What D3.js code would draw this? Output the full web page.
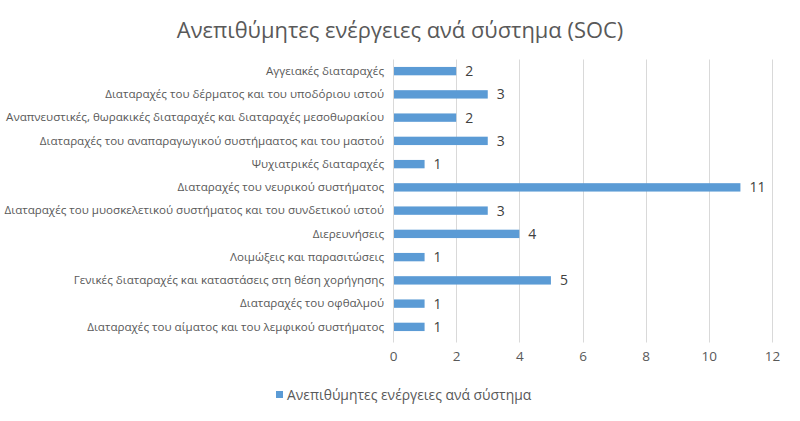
<!DOCTYPE html>
<html><head><meta charset="utf-8">
<script src="https://cdn.jsdelivr.net/npm/d3@7"></script>
<style>body{margin:0;background:#fff}svg{display:block}</style>
</head><body>
<svg id="c" width="800" height="421"></svg>
<script>
const categories = [
  "Αγγειακές διαταραχές",
  "Διαταραχές του δέρματος και του υποδόριου ιστού",
  "Αναπνευστικές, θωρακικές διαταραχές και διαταραχές μεσοθωρακίου",
  "Διαταραχές του αναπαραγωγικού συστήμαατος και του μαστού",
  "Ψυχιατρικές διαταραχές",
  "Διαταραχές του νευρικού συστήματος",
  "Διαταραχές του μυοσκελετικού συστήματος και του συνδετικού ιστού",
  "Διερευνήσεις",
  "Λοιμώξεις και παρασιτώσεις",
  "Γενικές διαταραχές και καταστάσεις στη θέση χορήγησης",
  "Διαταραχές του οφθαλμού",
  "Διαταραχές του αίματος και του λεμφικού συστήματος"
];
const values = [2, 3, 2, 3, 1, 11, 3, 4, 1, 5, 1, 1];
const xTicks = [0, 2, 4, 6, 8, 10, 12];
const chartTitle = "Ανεπιθύμητες ενέργειες ανά σύστημα (SOC)";
const seriesName = "Ανεπιθύμητες ενέργειες ανά σύστημα";

const svg = d3.select("#c");
const font = "'Open Sans', sans-serif";
const pLeft = 393, pRight = 772, pTop = 59.5, pBottom = 338.5;
const x = d3.scaleLinear().domain([0, 12]).range([pLeft, pRight]);
const y = d3.scaleBand().domain(categories).range([pTop, pBottom]).paddingInner(0.64).paddingOuter(0.32);

// gridlines
svg.append("g").selectAll("line").data(xTicks).join("line")
  .attr("x1", d => Math.round(x(d)) + 0.5).attr("x2", d => Math.round(x(d)) + 0.5)
  .attr("y1", pTop).attr("y2", pBottom + 4)
  .attr("stroke", "#d9d9d9").attr("stroke-width", 1);

// bars
svg.append("g").selectAll("rect").data(values).join("rect")
  .attr("x", x(0) + 1)
  .attr("y", (d, i) => y(categories[i]))
  .attr("width", d => x(d) - x(0) - 1)
  .attr("height", y.bandwidth())
  .attr("fill", "#5b9bd5");

// value labels
svg.append("g").selectAll("text").data(values).join("text")
  .attr("x", d => x(d) + 9)
  .attr("y", (d, i) => y(categories[i]) + y.bandwidth() / 2)
  .attr("dy", "0.36em")
  .attr("font-family", font).attr("font-size", 14).attr("fill", "#404040")
  .text(d => d);

// y axis
const yAxis = d3.axisLeft(y).tickSize(0).tickPadding(9);
const gy = svg.append("g").attr("transform", `translate(${pLeft},0)`).call(yAxis);
gy.select(".domain").remove();
gy.selectAll("text").attr("font-family", font).attr("font-size", 11.6).attr("fill", "#595959");

// x axis
const xAxis = d3.axisBottom(x).tickValues(xTicks).tickSize(0).tickPadding(13);
const gx = svg.append("g").attr("transform", `translate(0,${pBottom})`).call(xAxis);
gx.select(".domain").remove();
gx.selectAll("text").attr("font-family", font).attr("font-size", 13.5).attr("fill", "#595959");

// title
svg.append("text").attr("x", 400).attr("y", 38).attr("text-anchor", "middle")
  .attr("font-family", font).attr("font-size", 21.9).attr("fill", "#595959").text(chartTitle);

// legend
const lg = svg.append("g");
lg.append("rect").attr("x", 276).attr("y", 391).attr("width", 7).attr("height", 7).attr("fill", "#5b9bd5");
lg.append("text").attr("x", 287).attr("y", 395).attr("dy", "0.35em")
  .attr("font-family", font).attr("font-size", 13.9).attr("fill", "#595959").text(seriesName);
</script>
</body></html>
